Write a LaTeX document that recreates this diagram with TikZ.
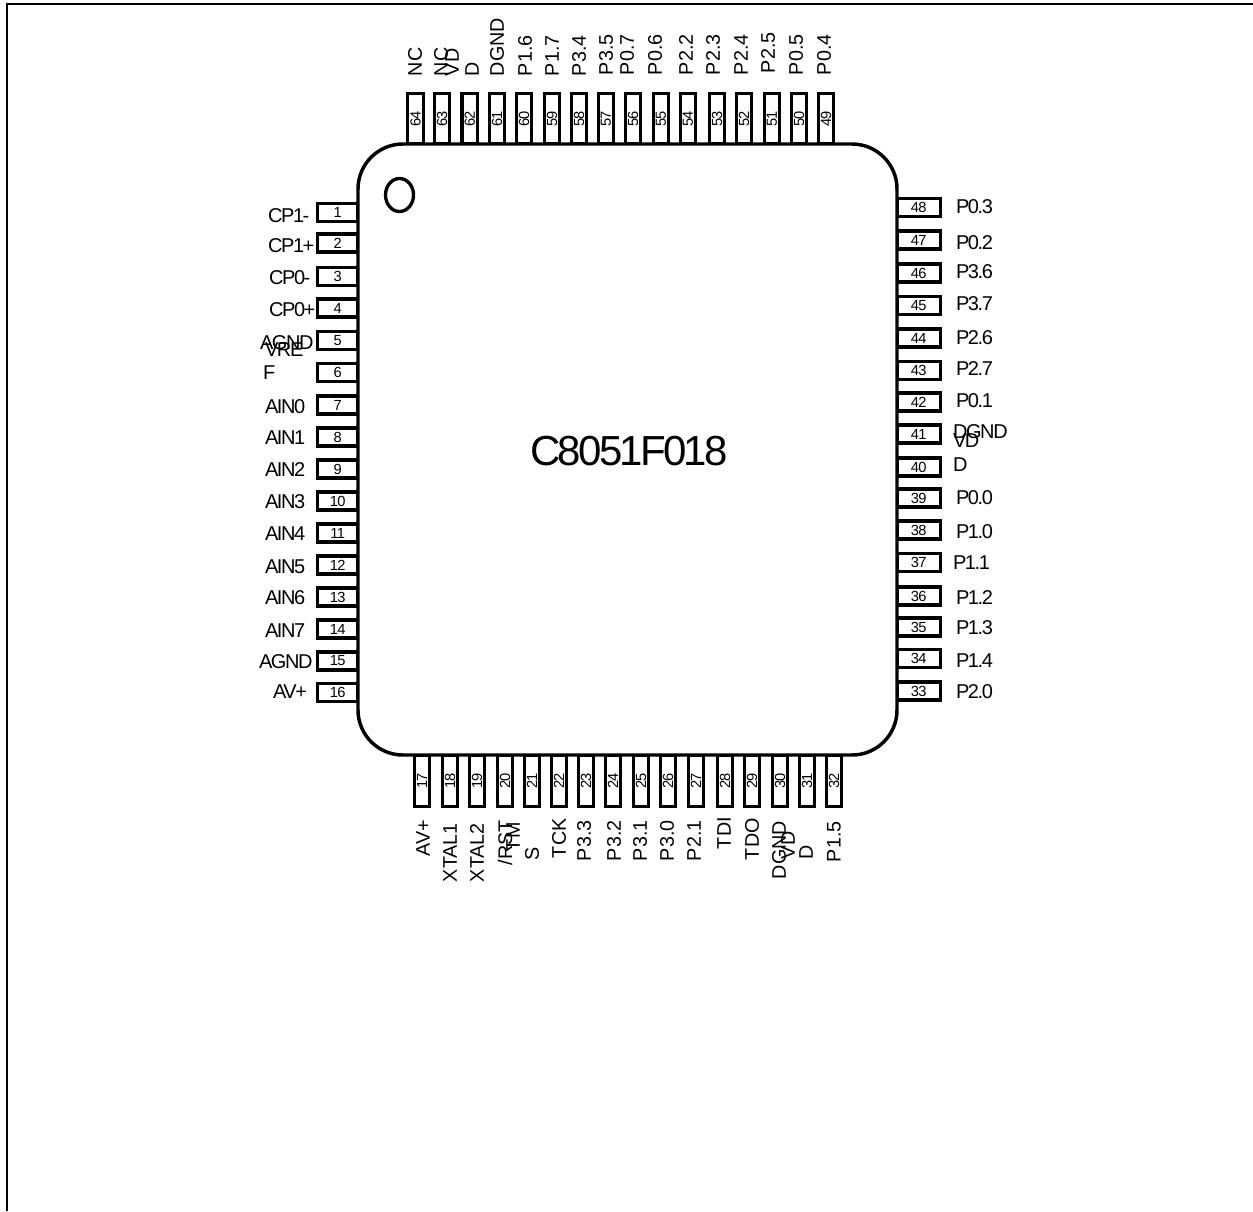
\documentclass[tikz,border=0pt]{standalone}
\usepackage{fontspec}
\setmainfont{Liberation Sans}
\newfontfamily\lblfont[LetterSpace=-7]{Liberation Sans}
\newfontfamily\numfont[LetterSpace=-4]{Liberation Sans}
\newfontfamily\chipfont[LetterSpace=-6.5]{Liberation Sans}
\usetikzlibrary{shapes.geometric}
\tikzset{
  hpin/.style={draw=black,line width=2.7pt,fill=white,rectangle,inner sep=0pt,outer sep=0pt,
    minimum height=13.5pt,font=\numfont\fontsize{11}{12}\selectfont},
  lpin/.style={hpin,minimum width=30.4pt},
  rpin/.style={hpin,minimum width=32.6pt},
  vpin/.style={draw=black,line width=2.5pt,fill=white,rectangle,inner sep=0pt,outer sep=0pt,rotate=90,
    minimum height=11.6pt,font=\numfont\fontsize{11}{12}\selectfont},
  tpin/.style={vpin,minimum width=37.9pt},
  bpin/.style={vpin,minimum width=38.6pt},
  hlabel/.style={anchor=west,inner sep=0pt,outer sep=0pt,font=\lblfont\fontsize{15}{18}\selectfont},
  vlabel/.style={anchor=west,rotate=90,inner sep=0pt,outer sep=0pt,font=\fontsize{14.8}{18}\selectfont},
  chipbody/.style={draw=black,line width=2.6pt,fill=white,rectangle,rounded corners=33.75pt,
    minimum width=404.25pt,minimum height=458.25pt,inner sep=0pt,outer sep=0pt},
  chipname/.style={inner sep=0pt,outer sep=0pt,font=\chipfont\fontsize{31.5}{36}\selectfont},
  dotmark/.style={draw=black,line width=2.5pt,ellipse,inner sep=0pt,outer sep=0pt,
    minimum width=21pt,minimum height=24.75pt},
  framel/.style={line width=1.5pt,draw=black}
}
\begin{document}
\begin{tikzpicture}[x=0.75pt,y=-0.75pt]
\useasboundingbox (0,0) rectangle (1253,1211);
% frame
\coordinate (fbl) at (7,1211);
\coordinate (fc) at (7,4);
\coordinate (ftr) at (1253,4);
\draw[framel] (fbl) -- (fc) -- (ftr);
% pins left
\foreach \n/\y in {1/212.5,2/243,3/276.5,4/308,5/340.5,6/372.5,7/405,8/437,9/469,10/501,11/533,12/565,13/597,14/629,15/661,16/692.5}
  \node[lpin] (pin\n) at (337.75,\y) {\n};
% pins right
\foreach \n/\y in {48/207.5,47/240,46/273,45/305.5,44/338,43/370.5,42/402,41/434,40/467,39/498,38/530,37/562.5,36/596,35/627,34/658.5,33/691}
  \node[rpin] (pin\n) at (918.75,\y) {\n};
% pins top
\foreach \n/\x in {64/415.5,63/442,62/469.7,61/497,60/524,59/552,58/579,57/606,56/633,55/661,54/688,53/717,52/744,51/772,50/799,49/826}
  \node[tpin] (pin\n) at (\x,118.75) {\n};
% pins bottom
\foreach \n/\x in {17/422,18/450,19/477,20/505,21/532,22/559,23/586,24/613,25/641,26/668,27/696,28/725,29/752,30/780,31/807,32/834}
  \node[bpin] (pin\n) at (\x,780.75) {\n};
% body
\node[chipbody] (chip) at (627.5,449.5) {};
\node[chipname] (chipname) at (629,451) {C8051F018};
\node[dotmark] (dot) at (399.5,195) {};
% left labels
\foreach \i/\t/\x/\y in {a/CP1-/268/216,b/CP1+/268/246,c/CP0-/269/278,d/CP0+/269/310,e/AGND/260/343,f/VRE/265/350,g/F/263/373,h/AIN0/265/407,i/AIN1/265/438,j/AIN2/265/470,k/AIN3/265/502,l/AIN4/265/534,m/AIN5/265/567,n/AIN6/265/598,o/AIN7/265/631,p/AGND/259/662,q/AV+/273/692}
  \node[hlabel] (ll\i) at (\x,\y) {\t};
% right labels
\foreach \i/\t/\x/\y in {a/P0.3/956/207,b/P0.2/956/243,c/P3.6/956/272,d/P3.7/956/304,e/P2.6/956/338,f/P2.7/956/369,g/P0.1/956/401,h/DGND/953/432,i/VD/953/441,j/D/953/465,k/P0.0/956/498,l/P1.0/956/532,m/P1.1/953/563,n/P1.2/956/598,o/P1.3/956/628,p/P1.4/956/661,q/P2.0/956/692}
  \node[hlabel] (rl\i) at (\x,\y) {\t};
% top labels
\foreach \i/\t/\x/\y in {a/NC/415/76,b/NC/441/76,c/VD/452/76,d/D/472/76,e/DGND/497/76,f/P1.6/525/76,g/P1.7/552/76,h/P3.4/579/76,i/P3.5/606/75,j/P0.7/627/75,k/P0.6/655/75,l/P2.2/686/75,m/P2.3/713/75,n/P2.4/741/75,o/P2.5/768/73,p/P0.5/796/75,q/P0.4/824/75}
  \node[vlabel] (tl\i) at (\x,\y) {\t};
% bottom labels
\foreach \i/\t/\x/\y in {a/AV+/423/856,b/XTAL1/450/882,c/XTAL2/477/882,d/{/RST}/505/865,e/TM/513/851,f/S/532/860,g/TCK/559/858,h/P3.3/584/861,i/P3.2/614/861,j/P3.1/640/861,k/P3.0/667/861,l/P2.1/694/861,m/TDI/724/849,n/TDO/752/860,o/DGND/779/879,p/VD/788/859,q/D/806/859,r/P1.5/834/862}
  \node[vlabel] (bl\i) at (\x,\y) {\t};
\end{tikzpicture}
\end{document}
